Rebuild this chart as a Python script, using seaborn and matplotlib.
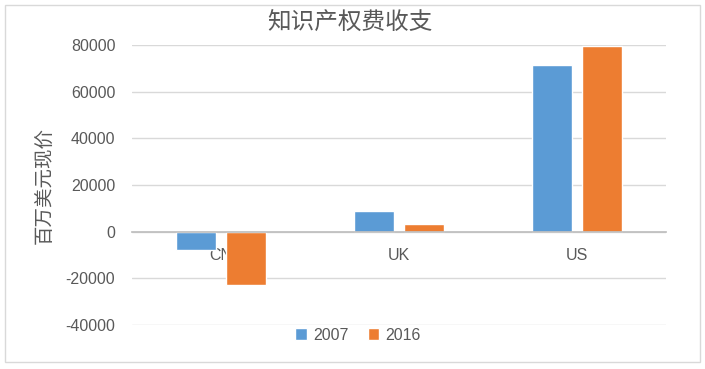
import matplotlib
matplotlib.use("Agg")
import matplotlib.pyplot as plt
import seaborn as sns
import pandas as pd
from matplotlib.patches import Rectangle

categories = ["CN", "UK", "US"]
years = ["2007", "2016"]
values_2007 = [-7800, 8700, 71500]
values_2016 = [-23000, 3500, 79500]
yticks = [-40000, -20000, 0, 20000, 40000, 60000, 80000]

df = pd.DataFrame({
    "country": categories * 2,
    "year": [years[0]] * 3 + [years[1]] * 3,
    "value": values_2007 + values_2016,
})

sns.set_theme(style="white")
plt.rcParams['font.family'] = ['Noto Sans CJK SC', 'DejaVu Sans']

fig = plt.figure(figsize=(7.05, 3.69), dpi=100)
ax = fig.add_axes([132/705, 1-325/369, 534/705, 280/369])

palette = {"2007": "#5B9BD5", "2016": "#ED7D31"}
sns.barplot(data=df, x="country", y="value", hue="year", order=categories,
            hue_order=years, palette=palette, width=0.565, gap=0.2,
            saturation=1, ax=ax, legend=True)

ax.set_ylim(-40000, 80000)
ax.set_xlim(-0.5, 2.5)
ax.set_yticks(yticks)
ax.set_yticklabels([str(t) for t in yticks], family=['Liberation Sans'], fontsize=11.5, color="#595959")
ax.grid(axis="y", color="#D9D9D9", linewidth=1)
ax.set_axisbelow(True)
for s in ["top", "right", "left"]:
    ax.spines[s].set_visible(False)
ax.spines["bottom"].set_position(("data", 0))
ax.spines["bottom"].set_color("#BFBFBF")
ax.tick_params(axis="x", length=0, pad=12, labelsize=11.5, labelcolor="#595959")
ax.tick_params(axis="y", length=0, pad=12)
for lbl in ax.get_xticklabels():
    lbl.set_family(['Liberation Sans'])
ax.set_xlabel("")
ax.set_ylabel("百万美元现价", fontsize=14, color="#595959", labelpad=7)

fig.text(350/705, 1-22/369, "知识产权费收支", fontsize=17, color="#595959",
         ha="center", va="center")

leg = ax.legend(loc="center", bbox_to_anchor=(358/705, 1-335/369),
                bbox_transform=fig.transFigure, ncol=2, frameon=False,
                handlelength=0.7, handleheight=0.7, handletextpad=0.4,
                columnspacing=1.2, prop={'family': 'Liberation Sans', 'size': 11.5})
for t in leg.get_texts():
    t.set_color("#595959")

fig.patches.append(Rectangle((5/705, 1-362/369), 695/705, 357/369,
                             transform=fig.transFigure, fill=False,
                             edgecolor="#D9D9D9", linewidth=1))

fig.savefig("out.png", dpi=100)
